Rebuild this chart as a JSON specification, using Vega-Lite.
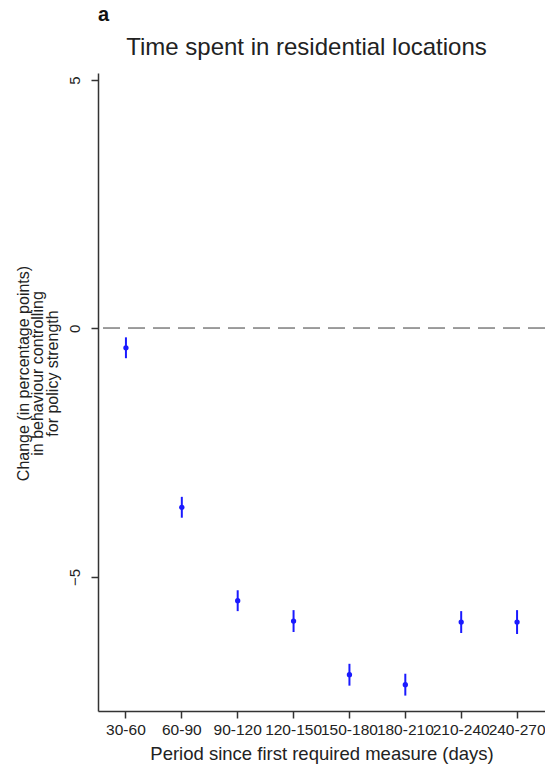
{
  "$schema": "https://vega.github.io/schema/vega-lite/v6.json",
  "width": 447,
  "height": 638,
  "autosize": "none",
  "padding": {"left": 98, "top": 73, "right": 0, "bottom": 62},
  "background": "white",
  "title": {"text": "a", "anchor": "start", "frame": "group", "font": "Liberation Sans", "fontSize": 20, "fontWeight": "bold", "color": "#111", "offset": 10},
  "config": {
    "view": {"stroke": null},
    "font": "Liberation Sans",
    "axis": {"grid": false, "domainColor": "#333", "tickColor": "#333", "labelColor": "#222", "titleColor": "#222", "labelFont": "Liberation Sans", "titleFont": "Liberation Sans", "titleFontWeight": "normal"}
  },
  "data": {
    "values": [
      {"period": "30-60", "est": -0.39, "lo": -0.60, "hi": -0.18},
      {"period": "60-90", "est": -3.60, "lo": -3.81, "hi": -3.39},
      {"period": "90-120", "est": -5.48, "lo": -5.69, "hi": -5.27},
      {"period": "120-150", "est": -5.89, "lo": -6.11, "hi": -5.67},
      {"period": "150-180", "est": -6.97, "lo": -7.19, "hi": -6.75},
      {"period": "180-210", "est": -7.17, "lo": -7.39, "hi": -6.95},
      {"period": "210-240", "est": -5.91, "lo": -6.13, "hi": -5.69},
      {"period": "240-270", "est": -5.91, "lo": -6.15, "hi": -5.67}
    ]
  },
  "resolve": {"axis": {"x": "independent"}},
  "layer": [
    {
      "mark": {"type": "rule", "color": "#999999", "strokeWidth": 1.3, "strokeDash": [17, 8]},
      "encoding": {"y": {"datum": 0}}
    },
    {
      "mark": {"type": "rule", "color": "#1a1aff", "strokeWidth": 2},
      "encoding": {
        "x": {
          "field": "period", "type": "ordinal", "sort": null,
          "scale": {"type": "band", "paddingInner": 0, "paddingOuter": 0},
          "axis": {"orient": "bottom", "title": "Period since first required measure (days)", "labelAngle": 0, "labelFontSize": 15.5, "labelPadding": 4, "tickSize": 7, "tickWidth": 1.5, "domainWidth": 1.5, "titleFontSize": 18.5, "titlePadding": 7}
        },
        "y": {
          "field": "lo", "type": "quantitative",
          "scale": {"domain": [-7.70, 5.14], "nice": false, "zero": false},
          "axis": {"values": [-5, 0, 5], "labelAngle": -90, "labelAlign": "center", "labelBaseline": "bottom", "labelFontSize": 15, "labelPadding": 9, "tickSize": 7, "tickWidth": 1.5, "domainWidth": 1.5, "title": ["Change (in percentage points)", "in behaviour controlling", "for policy strength"], "titleFontSize": 16, "titleLineHeight": 14.5, "titlePadding": 7, "titleY": 300}
        },
        "y2": {"field": "hi"}
      }
    },
    {
      "mark": {"type": "point", "filled": true, "color": "#1a1aff", "size": 28, "opacity": 1},
      "encoding": {
        "x": {
          "field": "period", "type": "ordinal", "sort": null,
          "axis": {"orient": "top", "domain": false, "ticks": false, "labels": false, "title": "Time spent in residential locations", "titleFontSize": 24, "titlePadding": 14, "titleX": 208}
        },
        "y": {"field": "est", "type": "quantitative"}
      }
    }
  ]
}
